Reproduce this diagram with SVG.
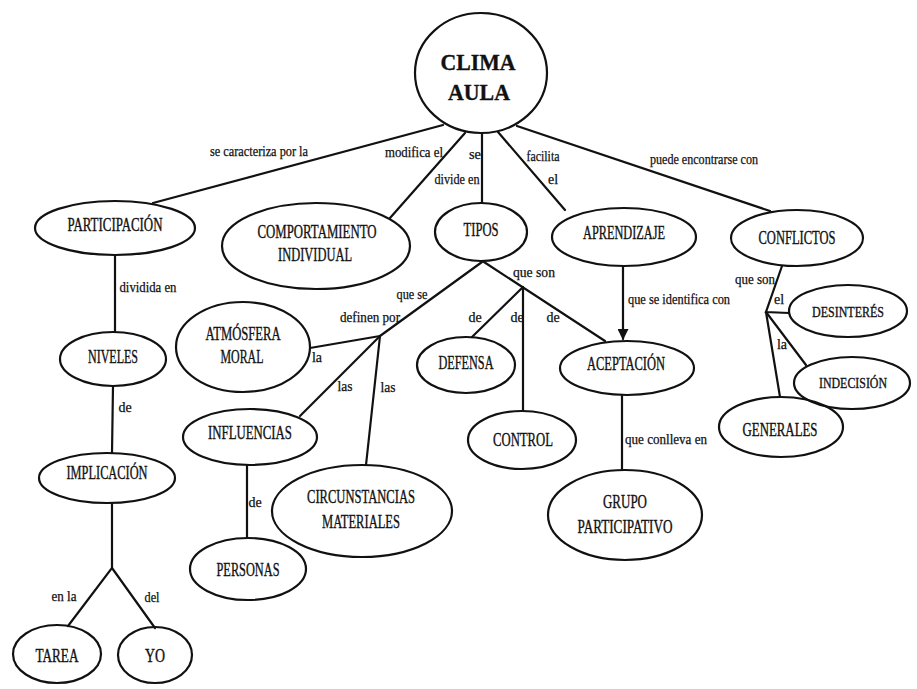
<svg xmlns="http://www.w3.org/2000/svg" width="917" height="689" viewBox="0 0 917 689">
<style>
.n ellipse{fill:none;stroke:#111;stroke-width:2.2}
.t{font-size:18px;fill:#111;stroke:#111;stroke-width:0.35;text-anchor:middle}
.s{font-size:15px}
.l{font-size:14px;fill:#111;stroke:#111;stroke-width:0.25;text-anchor:middle}
.c line,.c polyline{fill:none;stroke:#111;stroke-width:2.2;stroke-linecap:round}
</style>
<defs>
<marker id="ah" viewBox="0 0 10 10" refX="9" refY="5" markerWidth="5" markerHeight="5" orient="auto" markerUnits="strokeWidth">
<path d="M0,0 L10,5 L0,10 z" fill="#111"/>
</marker>
</defs>
<rect width="917" height="689" fill="#fff"/>

<g class="c" id="connectors">
<line x1="443" y1="125" x2="153" y2="203"/>
<line x1="465" y1="133" x2="390" y2="218"/>
<line x1="482" y1="133" x2="482" y2="203"/>
<line x1="498" y1="132" x2="565" y2="210"/>
<line x1="517" y1="126" x2="770" y2="211"/>
<line x1="115" y1="255" x2="115" y2="332"/>
<line x1="113" y1="386" x2="112" y2="453"/>
<polyline points="112,503 112,568 68,626"/>
<line x1="112" y1="568" x2="155" y2="628"/>
<line x1="482" y1="262" x2="380" y2="336"/>
<line x1="380" y1="336" x2="310" y2="348"/>
<line x1="380" y1="336" x2="300" y2="416"/>
<line x1="380" y1="336" x2="366" y2="465"/>
<line x1="484" y1="262" x2="605" y2="341"/>
<line x1="523" y1="287" x2="472" y2="337"/>
<line x1="523" y1="287" x2="523" y2="411"/>
<line x1="623" y1="266" x2="623" y2="339" marker-end="url(#ah)"/>
<line x1="622" y1="395" x2="622" y2="470"/>
<polyline points="782,266 766,312 789,313"/>
<line x1="766" y1="312" x2="806" y2="365"/>
<line x1="766" y1="312" x2="780" y2="397"/>
<line x1="247" y1="465" x2="247" y2="538"/>
</g>

<g id="labels" font-family="'Liberation Serif', 'DejaVu Serif', serif">
<text class="l" x="259" y="156" textLength="98" lengthAdjust="spacingAndGlyphs">se caracteriza por la</text>
<text class="l" x="414" y="157" textLength="58" lengthAdjust="spacingAndGlyphs">modifica el</text>
<text class="l" x="475" y="159" textLength="12" lengthAdjust="spacingAndGlyphs">se</text>
<text class="l" x="457" y="184" textLength="45" lengthAdjust="spacingAndGlyphs">divide en</text>
<text class="l" x="543" y="161" textLength="33" lengthAdjust="spacingAndGlyphs">facilita</text>
<text class="l" x="553" y="184">el</text>
<text class="l" x="704" y="164" textLength="108" lengthAdjust="spacingAndGlyphs">puede encontrarse con</text>
<text class="l" x="148" y="292" textLength="57" lengthAdjust="spacingAndGlyphs">dividida en</text>
<text class="l" x="125" y="412">de</text>
<text class="l" x="64" y="601" textLength="25" lengthAdjust="spacingAndGlyphs">en la</text>
<text class="l" x="152" y="602" textLength="15" lengthAdjust="spacingAndGlyphs">del</text>
<text class="l" x="412" y="299" textLength="31" lengthAdjust="spacingAndGlyphs">que se</text>
<text class="l" x="370" y="322" textLength="60" lengthAdjust="spacingAndGlyphs">definen por</text>
<text class="l" x="317" y="362">la</text>
<text class="l" x="345" y="391" textLength="15" lengthAdjust="spacingAndGlyphs">las</text>
<text class="l" x="388" y="392" textLength="15" lengthAdjust="spacingAndGlyphs">las</text>
<text class="l" x="534" y="277" textLength="42" lengthAdjust="spacingAndGlyphs">que son</text>
<text class="l" x="475" y="322">de</text>
<text class="l" x="517" y="322">de</text>
<text class="l" x="553" y="322">de</text>
<text class="l" x="679" y="304" textLength="102" lengthAdjust="spacingAndGlyphs">que se identifica con</text>
<text class="l" x="666" y="444" textLength="82" lengthAdjust="spacingAndGlyphs">que conlleva en</text>
<text class="l" x="755" y="284" textLength="40" lengthAdjust="spacingAndGlyphs">que son</text>
<text class="l" x="779" y="304">el</text>
<text class="l" x="782" y="349">la</text>
<text class="l" x="255" y="507">de</text>
</g>

<g id="nodes" font-family="'Liberation Serif', 'DejaVu Serif', serif">
<g class="n" id="clima-aula">
<ellipse cx="481" cy="73" rx="66" ry="60"/>
<text class="t" x="478" y="70" font-weight="bold" style="font-size:24px" textLength="75" lengthAdjust="spacingAndGlyphs">CLIMA</text>
<text class="t" x="479" y="100" font-weight="bold" style="font-size:24px" textLength="62" lengthAdjust="spacingAndGlyphs">AULA</text>
</g>
<g class="n" id="participacion">
<ellipse cx="115" cy="228" rx="80" ry="27"/>
<text class="t" x="115" y="231" textLength="95" lengthAdjust="spacingAndGlyphs">PARTICIPACIÓN</text>
</g>
<g class="n" id="comportamiento">
<ellipse cx="316" cy="246" rx="94" ry="43"/>
<text class="t" x="317" y="238" textLength="119" lengthAdjust="spacingAndGlyphs">COMPORTAMIENTO</text>
<text class="t" x="315" y="261" textLength="74" lengthAdjust="spacingAndGlyphs">INDIVIDUAL</text>
</g>
<g class="n" id="tipos">
<ellipse cx="481" cy="232" rx="46" ry="29"/>
<text class="t" x="481" y="236" textLength="35" lengthAdjust="spacingAndGlyphs">TIPOS</text>
</g>
<g class="n" id="aprendizaje">
<ellipse cx="624" cy="237" rx="72" ry="29"/>
<text class="t" x="624" y="239" textLength="82" lengthAdjust="spacingAndGlyphs">APRENDIZAJE</text>
</g>
<g class="n" id="conflictos">
<ellipse cx="797" cy="238" rx="66" ry="28"/>
<text class="t" x="797" y="244" textLength="77" lengthAdjust="spacingAndGlyphs">CONFLICTOS</text>
</g>
<g class="n" id="niveles">
<ellipse cx="113" cy="359" rx="53" ry="27"/>
<text class="t" x="113" y="363" textLength="50" lengthAdjust="spacingAndGlyphs">NIVELES</text>
</g>
<g class="n" id="atmosfera">
<ellipse cx="243" cy="347" rx="67" ry="45"/>
<text class="t" x="243" y="340" textLength="75" lengthAdjust="spacingAndGlyphs">ATMÓSFERA</text>
<text class="t" x="242" y="363" textLength="43" lengthAdjust="spacingAndGlyphs">MORAL</text>
</g>
<g class="n" id="defensa">
<ellipse cx="466" cy="365" rx="49" ry="28"/>
<text class="t" x="466" y="369" textLength="55" lengthAdjust="spacingAndGlyphs">DEFENSA</text>
</g>
<g class="n" id="aceptacion">
<ellipse cx="627" cy="368" rx="67" ry="27"/>
<text class="t" x="626" y="370" textLength="78" lengthAdjust="spacingAndGlyphs">ACEPTACIÓN</text>
</g>
<g class="n" id="desinteres">
<ellipse cx="848" cy="311" rx="59" ry="26"/>
<text class="t s" x="848" y="317" textLength="72" lengthAdjust="spacingAndGlyphs">DESINTERÉS</text>
</g>
<g class="n" id="indecision">
<ellipse cx="852" cy="383" rx="58" ry="26"/>
<text class="t s" x="853" y="388" textLength="68" lengthAdjust="spacingAndGlyphs">INDECISIÓN</text>
</g>
<g class="n" id="influencias">
<ellipse cx="250" cy="437" rx="67" ry="28"/>
<text class="t" x="250" y="439" textLength="84" lengthAdjust="spacingAndGlyphs">INFLUENCIAS</text>
</g>
<g class="n" id="control">
<ellipse cx="522" cy="440" rx="54" ry="29"/>
<text class="t" x="523" y="446" textLength="60" lengthAdjust="spacingAndGlyphs">CONTROL</text>
</g>
<g class="n" id="generales">
<ellipse cx="781" cy="427" rx="62" ry="30"/>
<text class="t" x="780" y="436" textLength="75" lengthAdjust="spacingAndGlyphs">GENERALES</text>
</g>
<g class="n" id="implicacion">
<ellipse cx="107" cy="478" rx="68" ry="25"/>
<text class="t" x="107" y="479" textLength="81" lengthAdjust="spacingAndGlyphs">IMPLICACIÓN</text>
</g>
<g class="n" id="circunstancias">
<ellipse cx="362" cy="511" rx="90" ry="46"/>
<text class="t" x="361" y="503" textLength="108" lengthAdjust="spacingAndGlyphs">CIRCUNSTANCIAS</text>
<text class="t" x="361" y="528" textLength="78" lengthAdjust="spacingAndGlyphs">MATERIALES</text>
</g>
<g class="n" id="grupo">
<ellipse cx="625" cy="515" rx="77" ry="45"/>
<text class="t" x="625" y="508" textLength="44" lengthAdjust="spacingAndGlyphs">GRUPO</text>
<text class="t" x="625" y="533" textLength="95" lengthAdjust="spacingAndGlyphs">PARTICIPATIVO</text>
</g>
<g class="n" id="personas">
<ellipse cx="248" cy="569" rx="58" ry="31"/>
<text class="t" x="248" y="576" textLength="63" lengthAdjust="spacingAndGlyphs">PERSONAS</text>
</g>
<g class="n" id="tarea">
<ellipse cx="57" cy="654" rx="44" ry="29"/>
<text class="t" x="57" y="662" textLength="43" lengthAdjust="spacingAndGlyphs">TAREA</text>
</g>
<g class="n" id="yo">
<ellipse cx="155" cy="655" rx="37" ry="28"/>
<text class="t" x="155" y="662" textLength="20" lengthAdjust="spacingAndGlyphs">YO</text>
</g>
</g>
</svg>
